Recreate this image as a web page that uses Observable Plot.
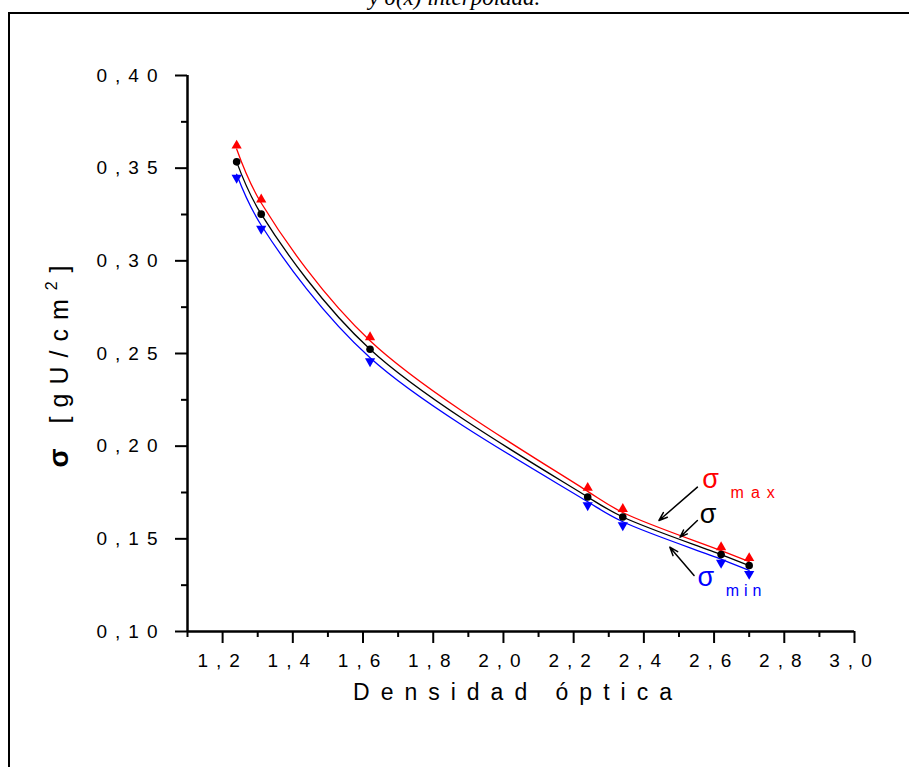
<!DOCTYPE html>
<html><head><meta charset="utf-8">
<script src="https://cdn.jsdelivr.net/npm/d3@7"></script>
<script src="https://cdn.jsdelivr.net/npm/@observablehq/plot@0.6"></script>
<style>
html,body{margin:0;padding:0;background:#fff;}
body{width:909px;height:767px;overflow:hidden;position:relative;}
#frame{position:absolute;left:8px;top:12px;width:960px;height:800px;border-left:2.5px solid #000;border-top:2.5px solid #000;}
#title{position:absolute;left:0;width:909px;top:-15px;line-height:24px;text-align:center;font:italic 23px "Liberation Serif","Times New Roman",serif;}
#chart{position:absolute;left:0;top:0;}
</style></head><body>
<div id="title">y σ(x) interpolada.</div>
<div id="frame"></div>
<div id="chart"></div>
<script>
// Data
const density  = [1.24, 1.31, 1.62, 2.24, 2.34, 2.62, 2.70];
const sigma    = [0.3534, 0.3252, 0.2523, 0.1726, 0.1618, 0.1415, 0.1356];
const sigmaMax = [0.3603, 0.3312, 0.2569, 0.1756, 0.1642, 0.1436, 0.1377];
const sigmaMin = [0.3467, 0.3192, 0.2477, 0.1700, 0.1592, 0.1390, 0.1330];

const xTicks      = [1.2, 1.4, 1.6, 1.8, 2.0, 2.2, 2.4, 2.6, 2.8, 3.0];
const xMinorTicks = [1.1, 1.3, 1.5, 1.7, 1.9, 2.1, 2.3, 2.5, 2.7, 2.9];
const yTicks      = [0.10, 0.15, 0.20, 0.25, 0.30, 0.35, 0.40];
const yMinorTicks = [0.125, 0.175, 0.225, 0.275, 0.325, 0.375];

// Annotation arrows (data coordinates): sigma max, sigma, sigma min
const arrowX1 = [2.5525, 2.5525, 2.543];
const arrowY1 = [0.1779, 0.1599, 0.1302];
const arrowX2 = [2.443, 2.503, 2.474];
const arrowY2 = [0.1599, 0.1509, 0.1455];

// Annotation labels
const labelText  = ["σ", "σ", "σ"];
const labelX     = [2.566, 2.559, 2.553];
const labelY     = [0.1772, 0.1583, 0.1248];
const labelColor = ["#ff0000", "#000000", "#0000ff"];
const subText    = ["max", "min"];
const subX       = [2.647, 2.633];
const subY       = [0.1718, 0.1194];
const subColor   = ["#ff0000", "#0000ff"];

const rows = density.map((x, i) => ({x, s: sigma[i], smax: sigmaMax[i], smin: sigmaMin[i]}));
const arrows = arrowX1.map((d, i) => ({x1: d, y1: arrowY1[i], x2: arrowX2[i], y2: arrowY2[i]}));
const labels = labelText.map((t, i) => ({t, x: labelX[i], y: labelY[i], c: labelColor[i]}));
const subs = subText.map((t, i) => ({t, x: subX[i], y: subY[i], c: subColor[i]}));

const fmtX = d => d.toFixed(1).replace(".", ",");
const fmtY = d => d.toFixed(2).replace(".", ",");

const plot = Plot.plot({
  width: 909, height: 767,
  marginLeft: 187, marginRight: 55, marginTop: 75, marginBottom: 136,
  style: {fontFamily: '"Liberation Sans", Arial, sans-serif', fontSize: "19px", background: "transparent", overflow: "visible", color: "#000"},
  x: {domain: [1.1, 3.0]},
  y: {domain: [0.10, 0.40]},
  marks: [
    Plot.axisX({ticks: xMinorTicks, tickSize: 6, tickFormat: () => "", strokeWidth: 2, label: null}),
    Plot.axisX({ticks: xTicks, tickSize: 12, tickPadding: 10, tickFormat: fmtX, strokeWidth: 2, fontSize: 19, label: null}),
    Plot.axisY({ticks: yMinorTicks, tickSize: 6, tickFormat: () => "", strokeWidth: 2, label: null}),
    Plot.axisY({ticks: yTicks, tickSize: 12, tickPadding: 10, tickFormat: fmtY, strokeWidth: 2, fontSize: 19, label: null}),
    Plot.ruleX([1.1], {y1: 0.10, y2: 0.40, strokeWidth: 2.5}),
    Plot.ruleY([0.10], {x1: 1.1, x2: 3.0, strokeWidth: 2.5}),
    Plot.line(rows, {x: "x", y: "smax", stroke: "#ff0000", strokeWidth: 1.3, curve: "catmull-rom"}),
    Plot.line(rows, {x: "x", y: "s", stroke: "#000000", strokeWidth: 1.3, curve: "catmull-rom"}),
    Plot.line(rows, {x: "x", y: "smin", stroke: "#0000ff", strokeWidth: 1.3, curve: "catmull-rom"}),
    Plot.dot(rows, {x: "x", y: "smax", symbol: "triangle", r: 3.8, dy: -3.5, fill: "#ff0000"}),
    Plot.dot(rows, {x: "x", y: "s", r: 3.8, fill: "#000000"}),
    Plot.dot(rows, {x: "x", y: "smin", symbol: "triangle", rotate: 180, r: 3.8, dy: 3.5, fill: "#0000ff"}),
    Plot.arrow(arrows, {x1: "x1", y1: "y1", x2: "x2", y2: "y2", stroke: "#000", strokeWidth: 1.5, headLength: 9, headAngle: 40}),
    Plot.text(labels, {x: "x", y: "y", text: "t", fill: "c", fontSize: 27, textAnchor: "start", lineAnchor: "bottom"}),
    Plot.text(subs, {x: "x", y: "y", text: "t", fill: "c", fontSize: 16, textAnchor: "start", lineAnchor: "bottom"})
  ]
});

const svg = d3.select(plot);
svg.selectAll("text").filter(function() { return /^\d,\d+$/.test(this.textContent); })
  .attr("letter-spacing", "8px").style("letter-spacing", "8px");
svg.selectAll("text").filter(function() { return this.textContent === "max"; })
  .attr("letter-spacing", "7px").style("letter-spacing", "7px");
svg.selectAll("text").filter(function() { return this.textContent === "min"; })
  .attr("letter-spacing", "5px").style("letter-spacing", "5px");

// Axis titles
svg.append("text")
  .attr("x", 518).attr("y", 700)
  .attr("text-anchor", "middle")
  .attr("font-size", 23).attr("letter-spacing", "11px")
  .attr("fill", "#000")
  .text("Densidad óptica");

const yl = svg.append("text")
  .attr("transform", "translate(68,362) rotate(-90)")
  .attr("text-anchor", "middle")
  .attr("font-size", 25).attr("letter-spacing", "9px").attr("fill", "#000");
yl.append("tspan").attr("font-weight", "bold").attr("font-size", 28).text("σ");
yl.append("tspan").text(" [gU/cm");
yl.append("tspan").attr("dy", -11).attr("font-size", 16).text("2");
yl.append("tspan").attr("dy", 11).text("]");

document.getElementById("chart").appendChild(plot);
</script>
</body></html>
